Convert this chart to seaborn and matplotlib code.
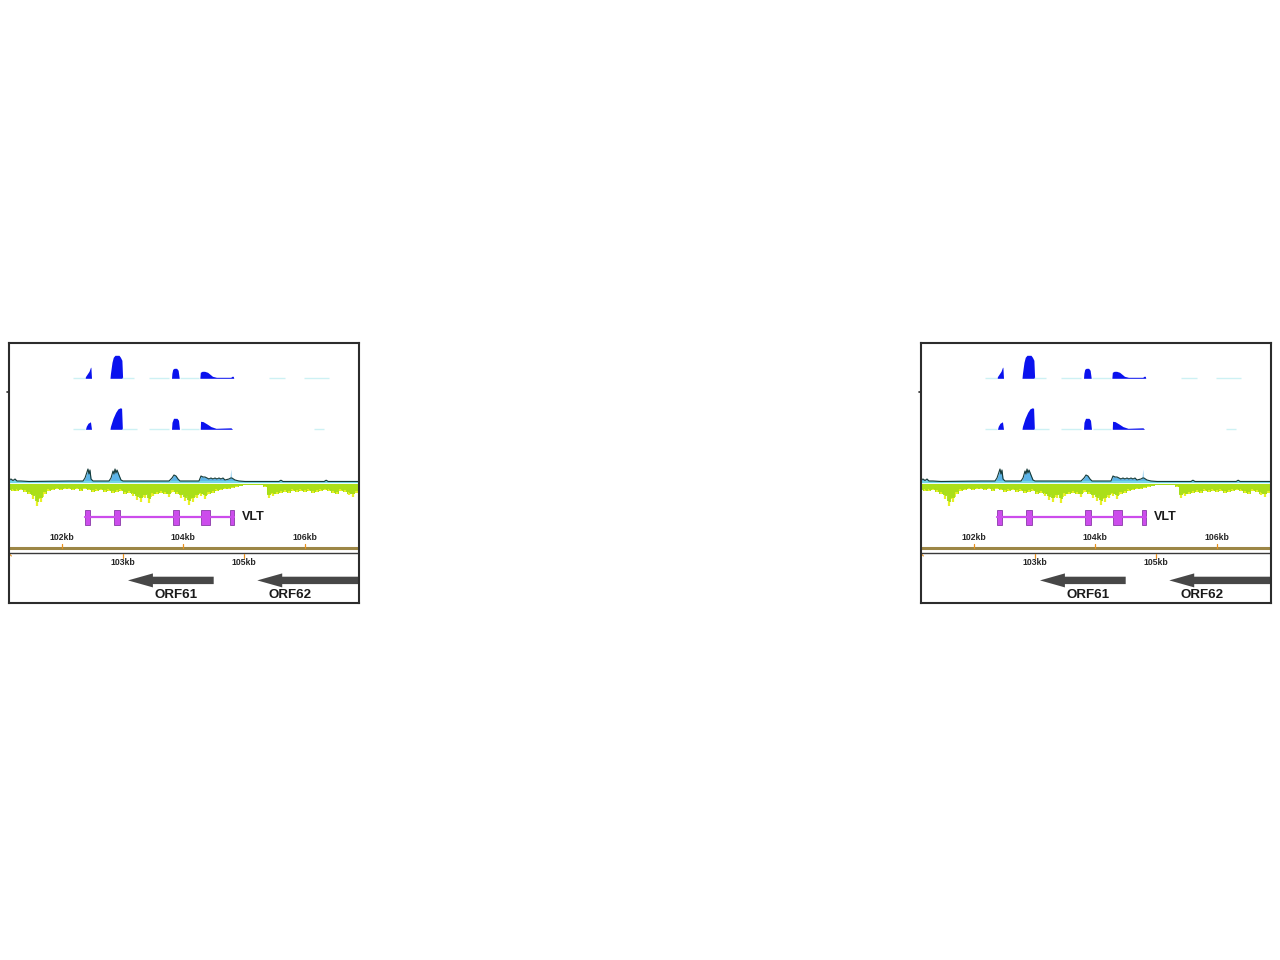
import numpy as np
import matplotlib
matplotlib.use("Agg")
import matplotlib.pyplot as plt
import seaborn as sns

sns.set_style("white")
plt.rcParams['font.family'] = ['Liberation Sans', 'DejaVu Sans']

# ---------------- data (genome coordinates in kb) ----------------
view_start, view_end = 101.133, 106.89

# RNA-seq coverage track 1
t1_pos = [102.380, 102.394, 102.416, 102.449, 102.473, 102.480, 102.490,
          102.794, 102.802, 102.827, 102.848, 102.876, 102.942, 102.966, 102.990, 103.002,
          103.806, 103.812, 103.826, 103.850, 103.890, 103.915, 103.933,
          104.272, 104.280, 104.310, 104.350, 104.400, 104.440, 104.480, 104.545, 104.780, 104.800, 104.822, 104.830]
t1_val = [0, 2, 4, 7, 11, 11, 0,
          0, 5, 16, 21, 23, 23, 21, 18, 0,
          0, 5, 9, 10, 10, 8, 0,
          0, 6, 7, 7, 6, 4, 2, 1, 1, 2, 2, 0]
t1_low_start = [102.186, 102.992, 103.436, 103.946, 105.409, 105.985]
t1_low_end = [102.383, 103.189, 103.765, 104.258, 105.672, 106.396]

# RNA-seq coverage track 2
t2_pos = [102.391, 102.404, 102.432, 102.473, 102.490,
          102.794, 102.802, 102.844, 102.888, 102.926, 102.964, 102.985, 102.998,
          103.806, 103.814, 103.839, 103.896, 103.921, 103.937,
          104.279, 104.284, 104.324, 104.390, 104.455, 104.538, 104.784, 104.809]
t2_val = [0, 3, 6, 7.5, 0,
          0, 3, 11, 17, 20.5, 21.5, 21, 0,
          0, 7, 11, 11, 9, 0,
          0, 8, 7.7, 5.3, 2.7, 1, 1.5, 0]
t2_low_start = [102.186, 102.992, 103.436, 103.962, 106.150]
t2_low_end = [102.383, 103.240, 103.765, 104.258, 106.314]

# stranded coverage track 3, plus strand
t3_pos = [101.133, 101.166, 101.199, 101.232, 101.264, 101.330, 101.462, 102.120,
          102.350, 102.383, 102.416, 102.432, 102.449, 102.465, 102.482, 102.515,
          102.778, 102.811, 102.844, 102.860, 102.877, 102.893, 102.910, 102.942, 102.975, 103.008,
          103.765, 103.814, 103.847, 103.880, 103.913, 103.946,
          104.258, 104.291, 104.324, 104.357, 104.390, 104.422, 104.455, 104.488, 104.521,
          104.554, 104.587, 104.620, 104.653, 104.686, 104.751, 104.780, 104.800, 104.850,
          104.915, 105.015, 105.573, 105.606, 105.640, 106.317, 106.350, 106.383, 106.890]
t3_val = [2, 3, 1.5, 3, 1, 1, 0.5, 1,
          1, 4, 10, 13, 8, 12, 3, 1,
          1, 4, 11, 8, 13, 9, 12, 7, 2, 1,
          1, 4, 7, 6, 3, 1,
          1, 6, 5, 5, 4, 3, 4, 3, 4,
          3, 4, 3, 4, 2, 3, 4, 4, 2,
          1, 0.5, 0.5, 1.8, 0.5, 0.5, 1.8, 0.5, 0.5]
t3_spike_pos = [104.770, 104.779, 104.788]
t3_spike_val = [3, 13, 3]

# stranded coverage track 3, minus strand (depth per bin)
minus_bin_start = 101.133
minus_bin_kb = 0.0658
minus_depth = [6, 7, 7, 6, 8, 10, 15, 22, 18, 10, 7, 6, 5, 6, 5, 5, 6, 5, 7, 5,
               6, 8, 7, 6, 8, 7, 9, 8, 7, 10, 9, 12, 16, 18, 14, 19, 12, 10, 9, 10,
               13, 8, 10, 14, 17, 21, 18, 14, 12, 15, 10, 9, 7, 6, 5, 5, 4, 3, 2, 1,
               1, 1, 1, 1, 3, 14, 12, 10, 9, 8, 9, 7, 8, 7, 8, 7, 9, 8, 7, 6,
               7, 9, 10, 7, 8, 11, 13, 9]

# VLT gene model
vlt_exon_start = [102.388, 102.855, 103.830, 104.296, 104.773]
vlt_exon_end = [102.470, 102.964, 103.924, 104.434, 104.839]
vlt_label = "VLT"

# ruler
ruler_ticks = [102, 103, 104, 105, 106]
ruler_labels = ["102kb", "103kb", "104kb", "105kb", "106kb"]

# ORFs (tail -> tip, minus strand)
orf_names = ["ORF61", "ORF62"]
orf_tail = [104.500, 107.500]
orf_tip = [103.090, 105.217]
orf_label_pos = [103.885, 105.760]

# ---------------- styles ----------------
BLUE = "#0a12ee"
LOWCOV = "#cdf1f4"
PLUS_FILL = "#5cb4e8"
PLUS_LINE = "#153a38"
MINUS_YELLOW = "#e8f024"
MINUS_GREEN = "#a4de18"
MAGENTA = "#cc4cec"
EXON_EDGE = "#8a3aa8"
ARROW = "#474747"
FRAME = "#2c2c2c"


def draw_panel(ax):
    ax.set_xlim(view_start, view_end)
    ax.set_ylim(260, 0)
    ax.set_xticks([])
    ax.set_yticks([])
    for sp in ax.spines.values():
        sp.set_color(FRAME)
        sp.set_linewidth(1.5)

    # small marks at the left edge
    ax.plot([view_start - 0.03, view_start], [49, 49], color=FRAME, lw=1.2, clip_on=False)
    ax.plot([view_start, view_start + 0.04], [210.5, 213], color="#e8901c", lw=0.8)

    # track 1 & 2
    for base, pos, val, ls, le in [(35.3, t1_pos, t1_val, t1_low_start, t1_low_end),
                                   (86.3, t2_pos, t2_val, t2_low_start, t2_low_end)]:
        for s, e in zip(ls, le):
            ax.plot([s, e], [base, base], color=LOWCOV, lw=1.0, solid_capstyle="butt")
        ax.fill_between(pos, base, base - np.array(val), color=BLUE, lw=0)

    # track 3
    b3 = 139.0
    mx = minus_bin_start + np.arange(len(minus_depth)) * minus_bin_kb
    md = np.array(minus_depth, dtype=float)
    ax.vlines(mx, b3 + 2, b3 + 2 + md, color=MINUS_YELLOW, lw=1.6)
    ax.vlines(mx + minus_bin_kb / 2, b3 + 2, b3 + 2 + 0.7 * md, color=MINUS_YELLOW, lw=1.3)
    ax.vlines(mx + minus_bin_kb / 4, b3 + 2, b3 + 2 + 0.8 * md, color=MINUS_GREEN, lw=1.3)
    ax.vlines(mx - minus_bin_kb / 4, b3 + 2, b3 + 2 + 0.75 * md, color=MINUS_GREEN, lw=1.3)
    ax.fill_between(mx, b3 + 2, b3 + 2 + np.minimum(md, 10), step="mid", color=MINUS_GREEN, lw=0)
    ax.plot([view_start, view_end], [b3, b3], color="#72d8e6", lw=1.6)
    pv = np.array(t3_val)
    ax.fill_between(t3_pos, b3, b3 - pv, color=PLUS_FILL, lw=0)
    ax.fill_between(t3_spike_pos, b3, b3 - np.array(t3_spike_val), color=PLUS_FILL, lw=0)
    sns.lineplot(x=t3_pos, y=list(b3 - pv), color=PLUS_LINE, lw=0.8, ax=ax)

    # VLT gene
    gy = 174.3
    ax.plot([vlt_exon_start[0], vlt_exon_end[-1]], [gy, gy], color=MAGENTA, lw=1.6)
    for s, e in zip(vlt_exon_start, vlt_exon_end):
        ax.add_patch(plt.Rectangle((s, gy - 7.5), e - s, 15, facecolor=MAGENTA,
                                   edgecolor=EXON_EDGE, lw=0.6))
    ax.text(vlt_exon_end[-1] + 0.13, gy, vlt_label, fontsize=9, fontweight="bold",
            ha="left", va="center", color="#1a1a1a")

    # ruler
    ax.plot([view_start, view_end], [205.3, 205.3], color="#9c8646", lw=2.2)
    ax.plot([view_start, view_end], [209.8, 209.8], color="#3a3a3a", lw=1.0)
    for i, (t, lab) in enumerate(zip(ruler_ticks, ruler_labels)):
        if i % 2 == 0:
            ax.plot([t, t], [200.5, 204.5], color="#e8901c", lw=0.9)
            ax.text(t, 194.3, lab, fontsize=6.2, fontweight="bold", ha="center", va="center")
        else:
            ax.plot([t, t], [210.8, 214.8], color="#e8901c", lw=0.9)
            ax.text(t, 219.8, lab, fontsize=6.2, fontweight="bold", ha="center", va="center")

    # ORFs
    for name, tail, tip, lx in zip(orf_names, orf_tail, orf_tip, orf_label_pos):
        ax.arrow(tail, 237.4, tip - tail, 0, width=7.4, head_width=14, head_length=0.41,
                 length_includes_head=True, color=ARROW, lw=0)
        ax.text(lx, 252, name, fontsize=9.6, fontweight="bold", ha="center", va="center",
                color="#1a1a1a")
    ax.set_xlabel("")
    ax.set_ylabel("")


fig = plt.figure(figsize=(12.8, 9.6), dpi=100)
W, H = 1280, 960
for left in [9, 921]:
    ax = fig.add_axes([left / W, (H - 603) / H, 350 / W, 260 / H])
    draw_panel(ax)

fig.savefig("out.png", dpi=100)
